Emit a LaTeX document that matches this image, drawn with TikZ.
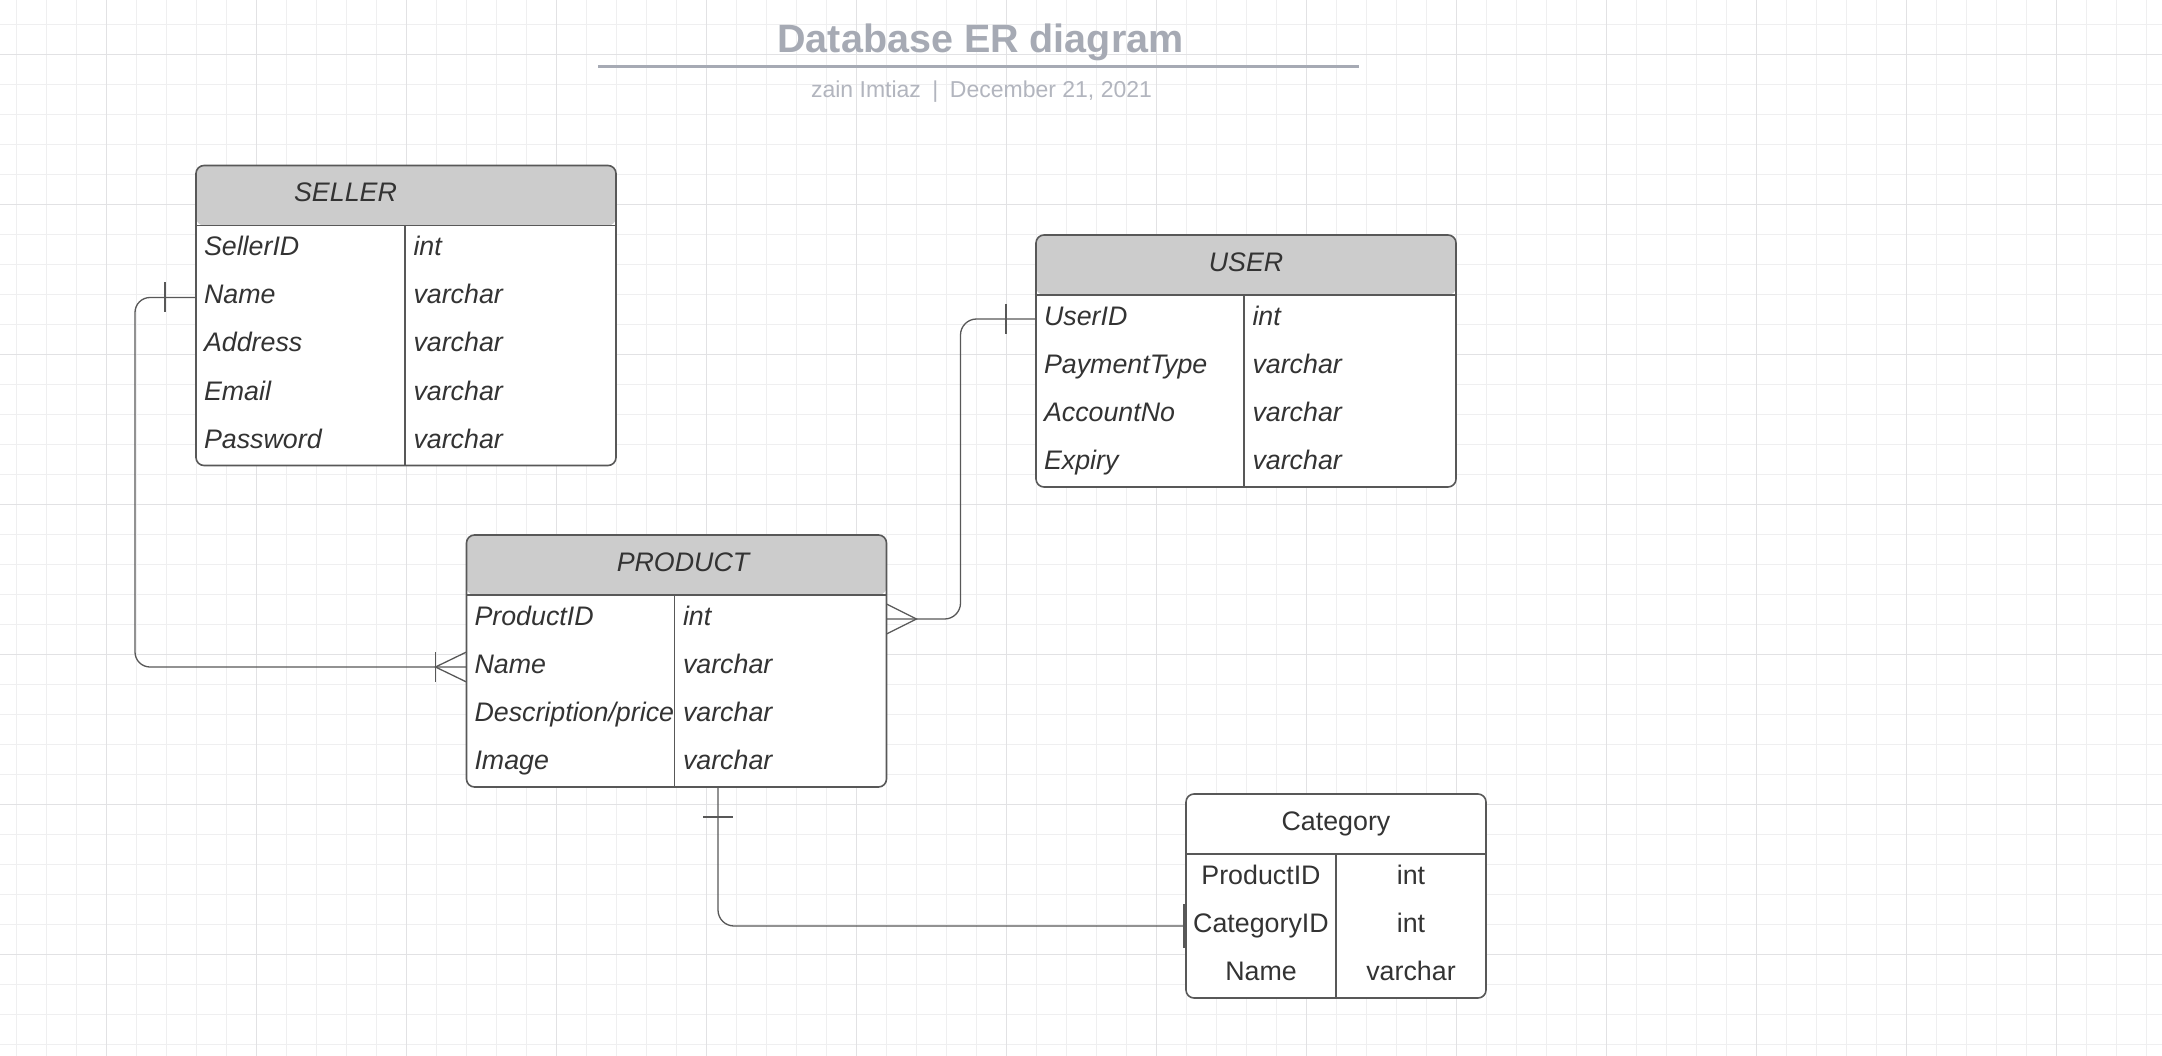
\documentclass[tikz,border=0pt]{standalone}
\usepackage{fontspec}
\setmainfont{Liberation Sans}

\definecolor{gridminor}{RGB}{239,239,240}
\definecolor{gridmajor}{RGB}{226,226,228}
\definecolor{headgray}{RGB}{204,204,204}
\definecolor{linegray}{RGB}{88,88,88}
\definecolor{textgray}{RGB}{51,51,51}
\definecolor{titlegray}{RGB}{166,170,180}
\definecolor{subgray}{RGB}{178,181,190}

\begin{document}
\begin{tikzpicture}[x=1pt, y=-1pt,
    tablebox/.style={draw=linegray, line width=1.6pt, rounded corners=8pt, fill=white,
      anchor=north west, minimum width=420pt, inner sep=0pt, outer sep=0pt},
    headed/.style={path picture={\fill[headgray] (path picture bounding box.north west)
      rectangle ([yshift=-60pt]path picture bounding box.north east);}},
    tabline/.style={draw=linegray, line width=1.6pt},
    headtext/.style={anchor=base, inner sep=0pt, text=textgray,
      font=\fontsize{26.8}{30}\selectfont\itshape},
    field/.style={anchor=north west, minimum height=48pt, text width=192pt, inner xsep=8pt,
      inner ysep=0pt, outer sep=0pt, text height=19pt, text depth=6pt, align=left,
      text=textgray, font=\fontsize{26.8}{30}\selectfont\itshape},
    ftype/.style={field, text width=195pt, inner xsep=8.5pt},
    catcell/.style={field, text width=150pt, inner xsep=0pt, align=center,
      font=\fontsize{26.8}{30}\selectfont},
    link/.style={draw=linegray, line width=1.3pt}]

    % Background and grid
    \fill[white] (0,0) rectangle (2162,1056);
    \useasboundingbox (0,0) rectangle (2162,1056);
    \begin{scope}[shift={(16.7,24.3)}]
        \draw[gridminor, line width=1pt, step=30pt] (-30,1050) grid (2160,-30);
    \end{scope}
    \begin{scope}[shift={(106.7,54.3)}]
        \draw[gridmajor, line width=1.1pt, step=150pt] (-150,1050) grid (2100,-150);
    \end{scope}

    % Title
    \node[anchor=base, inner sep=0pt, text=titlegray, font=\bfseries\fontsize{39.5}{46}\selectfont]
        (title) at (980.5,52.3) {Database ER diagram};
    \draw[titlegray, line width=3pt] (598,66.7) -- (1359,66.7);
    \node[anchor=base, inner sep=0pt, text=subgray, font=\fontsize{23}{27}\selectfont]
        (subtitle) at (981.5,97.3) {zain Imtiaz\hspace{0.5em}|\hspace{0.5em}December 21, 2021};

    % SELLER table
    \node[tablebox, headed, minimum height=300pt] (seller) at (196,165.5) {};
    \draw[tabline] ([yshift=-60pt]seller.north west) -- ([yshift=-60pt]seller.north east);
    \draw[tabline] ([xshift=209pt,yshift=-60pt]seller.north west) -- ([xshift=209pt]seller.south west);
    \node[headtext] (seller-head) at (345.5,201.7) {SELLER};
    \node[field] (seller-id) at (196,225.5) {SellerID};
    \node[ftype] (seller-id-t) at (405,225.5) {int};
    \node[field] (seller-name) at (196,273.5) {Name};
    \node[ftype] (seller-name-t) at (405,273.5) {varchar};
    \node[field] (seller-addr) at (196,321.5) {Address};
    \node[ftype] (seller-addr-t) at (405,321.5) {varchar};
    \node[field] (seller-mail) at (196,369.5) {Email};
    \node[ftype] (seller-mail-t) at (405,369.5) {varchar};
    \node[field] (seller-pass) at (196,417.5) {Password};
    \node[ftype] (seller-pass-t) at (405,417.5) {varchar};

    % USER table
    \node[tablebox, headed, minimum height=252pt] (user) at (1036,235) {};
    \draw[tabline] ([yshift=-60pt]user.north west) -- ([yshift=-60pt]user.north east);
    \draw[tabline] ([xshift=208pt,yshift=-60pt]user.north west) -- ([xshift=208pt]user.south west);
    \node[headtext] (user-head) at (1246,271.5) {USER};
    \node[field] (user-id) at (1036,295) {UserID};
    \node[ftype] (user-id-t) at (1244,295) {int};
    \node[field] (user-pay) at (1036,343) {PaymentType};
    \node[ftype] (user-pay-t) at (1244,343) {varchar};
    \node[field] (user-acc) at (1036,391) {AccountNo};
    \node[ftype] (user-acc-t) at (1244,391) {varchar};
    \node[field] (user-exp) at (1036,439) {Expiry};
    \node[ftype] (user-exp-t) at (1244,439) {varchar};

    % PRODUCT table
    \node[tablebox, headed, minimum height=252pt] (product) at (466.5,535) {};
    \draw[tabline] ([yshift=-60pt]product.north west) -- ([yshift=-60pt]product.north east);
    \draw[tabline] ([xshift=208pt,yshift=-60pt]product.north west) -- ([xshift=208pt]product.south west);
    \node[headtext] (product-head) at (683,571) {PRODUCT};
    \node[field] (product-id) at (466.5,595) {ProductID};
    \node[ftype] (product-id-t) at (674.5,595) {int};
    \node[field] (product-name) at (466.5,643) {Name};
    \node[ftype] (product-name-t) at (674.5,643) {varchar};
    \node[field] (product-desc) at (466.5,691) {\mbox{Description/price}};
    \node[ftype] (product-desc-t) at (674.5,691) {varchar};
    \node[field] (product-img) at (466.5,739) {Image};
    \node[ftype] (product-img-t) at (674.5,739) {varchar};

    % Category table
    \node[tablebox, minimum width=300pt, minimum height=204pt] (cat) at (1186,794) {};
    \draw[tabline] ([yshift=-60pt]cat.north west) -- ([yshift=-60pt]cat.north east);
    \draw[tabline] ([xshift=150pt,yshift=-60pt]cat.north west) -- ([xshift=150pt]cat.south west);
    \node[headtext, font=\fontsize{26.8}{30}\selectfont] (cat-head) at (1336,830) {Category};
    \node[catcell] (cat-pid) at (1186,854) {ProductID};
    \node[catcell] (cat-pid-t) at (1336,854) {int};
    \node[catcell] (cat-cid) at (1186,902) {CategoryID};
    \node[catcell] (cat-cid-t) at (1336,902) {int};
    \node[catcell] (cat-name) at (1186,950) {Name};
    \node[catcell] (cat-name-t) at (1336,950) {varchar};

    % SELLER -- PRODUCT
    \draw[link, rounded corners=15pt] (seller-name.west) -- ++(-61,0) |- (product-name.west);
    \draw[link] ([xshift=-31pt,yshift=15pt]seller-name.west) -- ++(0,30);
    \draw[link] ([yshift=15pt]product-name.west) -- ([xshift=-31pt]product-name.west)
        -- ([yshift=-15pt]product-name.west);
    \draw[link] ([xshift=-31pt,yshift=15pt]product-name.west) -- ++(0,30);

    % PRODUCT -- USER
    \draw[link, rounded corners=16pt] (product-id-t.east) -- ++(74,0) |- (user-id.west);
    \draw[link] ([yshift=15pt]product-id-t.east) -- ([xshift=30pt]product-id-t.east)
        -- ([yshift=-15pt]product-id-t.east);
    \draw[link] ([xshift=-30pt,yshift=15pt]user-id.west) -- ++(0,30);

    % PRODUCT -- Category
    \coordinate (product-foot) at ([xshift=43.5pt]product-img-t.south west);
    \draw[link, rounded corners=16pt] (product-foot) |- (cat-cid.west);
    \draw[link] ([xshift=-15pt,yshift=-30pt]product-foot) -- ++(30,0);
    \draw[link, line width=2.6pt] ([xshift=-1.5pt,yshift=22pt]cat-cid.west) -- ++(0,44);
\end{tikzpicture}
\end{document}
